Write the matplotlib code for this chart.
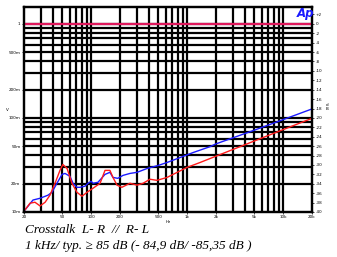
import numpy as np
import matplotlib
matplotlib.use("Agg")
import matplotlib.pyplot as plt
from matplotlib.ticker import FixedLocator, NullFormatter

# crosstalk curves (Hz, V)
blue_f = [20, 24.8, 29.4, 35.6, 39.1, 44.1, 49.8, 53.5, 60.3, 64.8, 71.2, 76.6, 86.4, 92.8,
          100, 104.8, 118, 139.6, 157, 169, 190, 215, 254, 301, 383, 498, 618, 844, 1152,
          1732, 2000, 5000, 10000, 20000]
blue_v = [0.0102, 0.0134, 0.0140, 0.0151, 0.0162, 0.0202, 0.0251, 0.0257, 0.0239, 0.0202,
          0.0183, 0.0183, 0.0188, 0.0202, 0.0212, 0.0202, 0.0207, 0.0251, 0.0264, 0.0233,
          0.0228, 0.0245, 0.0257, 0.0264, 0.0290, 0.0312, 0.0336, 0.0379, 0.0428, 0.0495,
          0.0530, 0.0740, 0.0959, 0.1246]

red_f = [20, 23.1, 26.0, 29.4, 33.2, 37.3, 42.1, 47.4, 50.8, 56.2, 63.2, 71.2, 80.4, 90.6,
         104.8, 124, 139.6, 157, 169, 186, 209, 254, 301, 348, 410, 485, 618, 788, 992,
         1366, 1732, 2000, 5000, 10000, 20000]
red_v = [0.0102, 0.0124, 0.0127, 0.0116, 0.0127, 0.0151, 0.0202, 0.0277, 0.0320, 0.0290,
         0.0202, 0.0162, 0.0147, 0.0162, 0.0179, 0.0202, 0.0277, 0.0277, 0.0233, 0.0193,
         0.0183, 0.0202, 0.0193, 0.0202, 0.0223, 0.0217, 0.0233, 0.0264, 0.0297, 0.0336,
         0.0370, 0.0392, 0.0568, 0.0751, 0.0990]

ref_f = [20, 20000]
ref_v = [1.0, 1.0]

x_ticks = [20, 50, 100, 200, 500, 1000, 2000, 5000, 10000, 20000]
x_labels = ["20", "50", "100", "200", "500", "1k", "2k", "5k", "10k", "20k"]
y_ticks = [0.01, 0.02, 0.05, 0.1, 0.2, 0.5, 1.0]
y_labels = ["10m", "20m", "50m", "100m", "200m", "500m", "1"]
db_ticks = list(range(-40, 3, 2))

fig = plt.figure(figsize=(3.37, 2.57), dpi=100)
ax = fig.add_axes([24 / 337, 1 - 212 / 257, 288 / 337, 205 / 257])
ax.set_xscale("log")
ax.set_yscale("log")
ax.set_xlim(20, 20000)
ax.set_ylim(0.01, 1.51)

# heavy grid on every decade subdivision
xg = [m * 10 ** d for d in range(1, 5) for m in range(1, 10) if 20 < m * 10 ** d < 20000]
yg = [m * 10 ** d for d in range(-2, 1) for m in range(1, 10) if 0.01 < m * 10 ** d < 1.51]
for v in xg:
    ax.axvline(v, color="black", lw=1.6, zorder=1)
for v in yg:
    ax.axhline(v, color="black", lw=1.6, zorder=1)

ax.plot(blue_f, blue_v, color="#1a1aff", lw=1.0, zorder=3)
ax.plot(red_f, red_v, color="#ff1a1a", lw=1.0, zorder=3)
ax.plot(ref_f, ref_v, color="#e0185c", lw=1.6, zorder=4)

for s in ax.spines.values():
    s.set_linewidth(1.6)

ax.xaxis.set_major_locator(FixedLocator(x_ticks))
ax.set_xticklabels(x_labels)
ax.xaxis.set_minor_formatter(NullFormatter())
ax.yaxis.set_major_locator(FixedLocator(y_ticks))
ax.set_yticklabels(y_labels)
ax.yaxis.set_minor_formatter(NullFormatter())
ax.tick_params(which="both", length=1.5, width=0.5, labelsize=3, pad=1)
ax.tick_params(which="minor", length=0)

ax2 = ax.twinx()
ax2.set_ylim(20 * np.log10(0.01), 20 * np.log10(1.51))
ax2.set_yticks(db_ticks)
ax2.set_yticklabels([("+%d" % t if t > 0 else "%d" % t) for t in db_ticks])
ax2.tick_params(length=1.5, width=0.5, labelsize=3, pad=1)
for s in ax2.spines.values():
    s.set_linewidth(1.6)

fig.text(7 / 337, 1 - 110 / 257, "V", fontsize=3, ha="center", va="center")
fig.text(327 / 337, 1 - 107 / 257, "d\nB", fontsize=3, ha="center", va="center", linespacing=0.9)
fig.text(168 / 337, 1 - 222 / 257, "Hz", fontsize=3, ha="center", va="center")

fig.text(314 / 337, 1 - 7 / 257, "Ap", ha="right", va="top",
         fontsize=8.5, color="#1a1aff", style="italic", fontweight="bold", zorder=5)

fig.text(25 / 337, 1 - 233 / 257, "Crosstalk  L- R  //  R- L", family="Liberation Serif",
         style="italic", fontsize=9.5, va="baseline")
fig.text(25 / 337, 1 - 249 / 257, "1 kHz/ typ. \u2265 85 dB (- 84,9 dB/ -85,35 dB )",
         family=["Liberation Serif", "DejaVu Serif"], style="italic", fontsize=9.5, va="baseline")

fig.savefig("out.png", dpi=100)
